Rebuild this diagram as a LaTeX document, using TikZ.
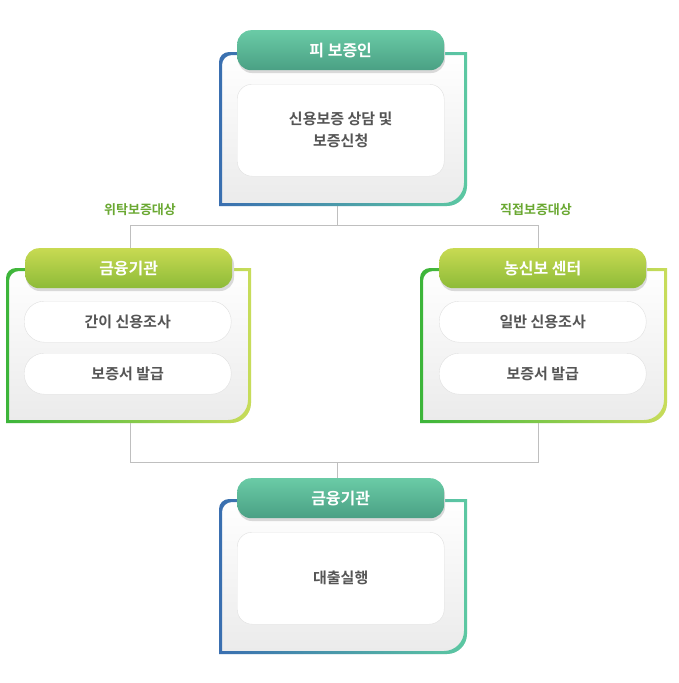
\documentclass[tikz,border=0pt]{standalone}
\usepackage{fontspec}
\setmainfont{Noto Sans CJK KR}[BoldFont={* Bold}]
\usetikzlibrary{positioning}
\definecolor{tA}{HTML}{6ACBA6}\definecolor{tB}{HTML}{4AA084}
\definecolor{gA}{HTML}{C8DA52}\definecolor{gB}{HTML}{8DBB38}
\definecolor{fBlue}{HTML}{3A6FB0}\definecolor{fTeal}{HTML}{5CC8A2}
\definecolor{fGreen}{HTML}{3CB53A}\definecolor{fYel}{HTML}{C8DC5A}
\definecolor{txt}{HTML}{555555}\definecolor{lbl}{HTML}{6AA832}
\newcommand{\frm}[5]{% x1 y1 x2 y2 inset
 (#1+#5,#4-#5) [rounded corners=10pt]-- (#1+#5,#2+#5) [sharp corners]-- (#3-#5,#2+#5) [rounded corners=20pt]-- (#3-#5,#4-#5) [sharp corners]-- cycle}
\newcommand{\bigframe}[6]{%
 \shade[top color=white,bottom color=black!8] \frm{#1}{#2}{#3}{#4}{0};
 \shade[left color=#5,right color=#6,even odd rule] \frm{#1}{#2}{#3}{#4}{0} \frm{#1}{#2}{#3}{#4}{3};}
\tikzset{
 title/.style={rounded corners=14pt,minimum height=40pt,minimum width=207pt,inner sep=0pt,text=white,font=\bfseries\fontsize{16}{18}\selectfont,anchor=north west},
 ttl/.style={title,top color=tA,bottom color=tB},
 gtl/.style={title,top color=gA,bottom color=gB},
 inbox/.style={draw=black!12,fill=white,rounded corners=15pt,minimum width=207pt,text=txt,font=\bfseries\fontsize{15}{22}\selectfont,align=center,anchor=north west,inner sep=0pt},
 pill/.style={inbox,rounded corners=20pt,minimum height=41pt},
 con/.style={draw=black!25,line width=0.8pt},
 lab/.style={text=lbl,font=\bfseries\fontsize{13}{15}\selectfont}
}
\begin{document}
\begin{tikzpicture}[x=1pt,y=-1pt]
\useasboundingbox (0,0) rectangle (678,683);
% connectors
\coordinate (j1) at (337,225);\coordinate (jl) at (130,225);\coordinate (jr) at (538,225);
\coordinate (k1) at (337,462);\coordinate (kl) at (130,462);\coordinate (kr) at (538,462);
\draw[con] (337,205) -- (j1) (jl) -- (jr) (jl) -- (130,250) (jr) -- (538,250);
\draw[con] (130,420) -- (kl) -- (kr) -- (538,420) (k1) -- (337,480);
\node[lab] (l1) at (140,210) {위탁보증대상};
\node[lab] (l2) at (536,210) {직접보증대상};
% top
\bigframe{219}{52}{467}{206}{fBlue}{fTeal}
\fill[black!15,rounded corners=14pt] (238,33) rectangle (445,73);
\node[ttl] (t1) at (237,30) {피 보증인};
\node[inbox,minimum height=92pt] (b1) at (237,84) {신용보증 상담 및\\보증신청};
% left
\bigframe{6}{268}{251}{423}{fGreen}{fYel}
\fill[black!15,rounded corners=14pt] (26,251) rectangle (234,291);
\node[gtl] (t2) at (25,248) {금융기관};
\node[pill] (b2) at (24,301) {간이 신용조사};
\node[pill] (b3) at (24,353) {보증서 발급};
% right
\bigframe{420}{268}{667}{423}{fGreen}{fYel}
\fill[black!15,rounded corners=14pt] (440,251) rectangle (647,291);
\node[gtl] (t3) at (439,248) {농신보 센터};
\node[pill] (b4) at (439,301) {일반 신용조사};
\node[pill] (b5) at (439,353) {보증서 발급};
% bottom
\bigframe{219}{499}{467}{654}{fBlue}{fTeal}
\fill[black!15,rounded corners=14pt] (238,481) rectangle (445,521);
\node[ttl] (t4) at (237,478) {금융기관};
\node[inbox,minimum height=92pt] (b6) at (237,532) {대출실행};
\end{tikzpicture}
\end{document}
